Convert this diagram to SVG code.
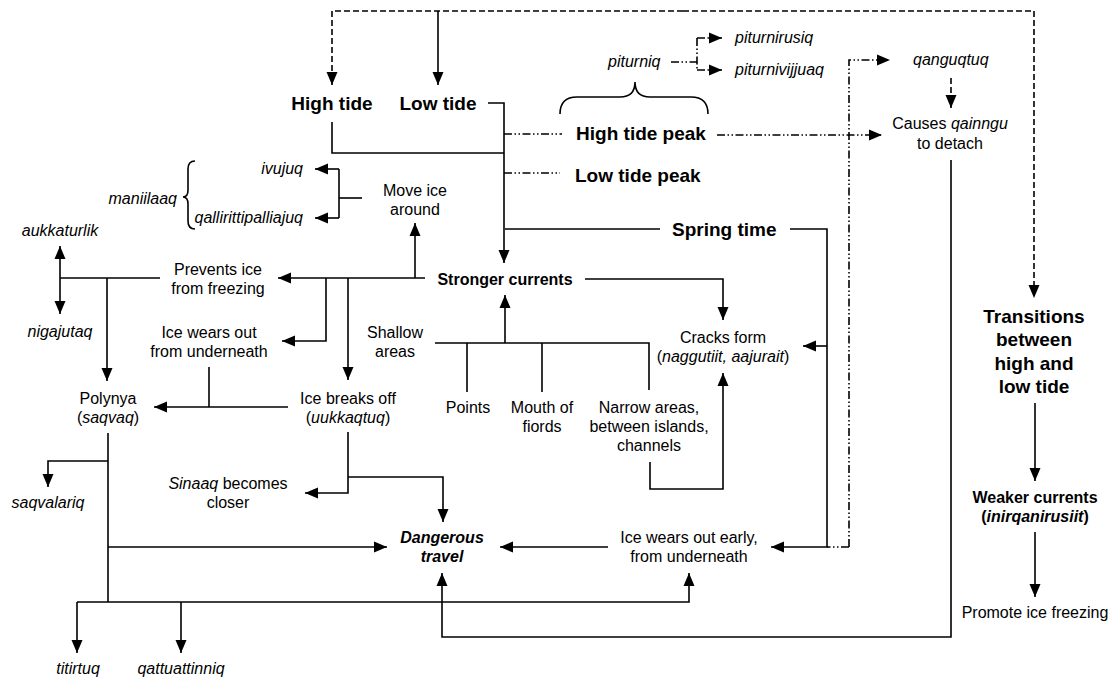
<svg xmlns="http://www.w3.org/2000/svg" width="1113" height="682" viewBox="0 0 1113 682">
<style>
text{font-family:"Liberation Sans",Arial,sans-serif;font-size:16px;fill:#000}
.c{text-anchor:middle}
.e{text-anchor:end}
.b{font-weight:bold}
.big{font-size:19px;font-weight:bold}
.i{font-style:italic}
.ln{fill:none;stroke:#000;stroke-width:1.6}
.da{stroke-dasharray:6,3}
.dd{stroke-dasharray:8,2.5,1.5,2.5,1.5,2.5}
.ar{marker-end:url(#a)}
</style>
<defs>
<marker id="a" markerUnits="userSpaceOnUse" markerWidth="14" markerHeight="12" viewBox="0 0 14 12" refX="13" refY="6" orient="auto"><path d="M0,0.5 L13,6 L0,11.5 z" fill="#000"/></marker>
</defs>
<rect width="1113" height="682" fill="#fff"/>
<g id="connectors">
<path class="ln da ar" d="M683,11 H332 V85"/>
<path class="ln da ar" d="M683,11 H1034 V298"/>
<path class="ln ar" d="M438,11 V85"/>
<path class="ln ar" d="M488,103 H504 V263"/>
<path class="ln" d="M332,122 V153 H504"/>
<path class="ln dd" d="M504,134 H562"/>
<path class="ln dd ar" d="M717,135 H882"/>
<path class="ln dd" d="M504,173 H560"/>
<path class="ln" d="M560,114 Q560,97 577,97 H620 Q635,97 635,82 Q635,97 650,97 H691 Q708,97 708,114"/>
<path class="ln dd" d="M671,62 H697"/>
<path class="ln dd" d="M697,38 V70"/>
<path class="ln dd ar" d="M697,38 H722"/>
<path class="ln dd ar" d="M697,70 H722"/>
<path class="ln dd ar" d="M849,547 V60 H890"/>
<path class="ln dd" d="M849,547 H827"/>
<path class="ln da ar" d="M951,78 V108"/>
<path class="ln ar" d="M951,160 V637 H442 V573"/>
<path class="ln ar" d="M1035,403 V481"/>
<path class="ln ar" d="M1035,532 V597"/>
<path class="ln" d="M505,229 H660"/>
<path class="ln ar" d="M790,229 H827 V547 H771"/>
<path class="ln ar" d="M827,346 H803"/>
<path class="ln ar" d="M585,279 H723 V320"/>
<path class="ln" d="M435,343 H649 V390"/>
<path class="ln" d="M467,343 V392"/>
<path class="ln" d="M542,343 V392"/>
<path class="ln ar" d="M505,343 V295"/>
<path class="ln ar" d="M650,462 V489 H723 V373"/>
<path class="ln ar" d="M425,278 H278"/>
<path class="ln ar" d="M415,278 V223"/>
<path class="ln ar" d="M326,278 V341 H282"/>
<path class="ln ar" d="M348,278 V380"/>
<path class="ln" d="M362,198 H339"/>
<path class="ln" d="M339,169 V218"/>
<path class="ln ar" d="M339,169 H315"/>
<path class="ln ar" d="M339,218 H315"/>
<path class="ln" d="M195,161 Q188,161 188,169 V190 Q188,197 183,197 Q188,197 188,204 V221 Q188,229 195,229"/>
<path class="ln" d="M160,278 H60"/>
<path class="ln ar" d="M60,278 V246"/>
<path class="ln ar" d="M60,278 V314"/>
<path class="ln ar" d="M107,278 V381"/>
<path class="ln" d="M209,367 V407"/>
<path class="ln ar" d="M288,407 H154"/>
<path class="ln ar" d="M348,432 V493 H305"/>
<path class="ln ar" d="M348,477 H443 V522"/>
<path class="ln" d="M108,433 V602"/>
<path class="ln ar" d="M108,461 H48 V487"/>
<path class="ln ar" d="M108,547 H387"/>
<path class="ln ar" d="M77,602 V653"/>
<path class="ln ar" d="M181,602 V653"/>
<path class="ln ar" d="M77,602 H689 V573"/>
<path class="ln ar" d="M608,547 H500"/>
</g>
<g id="high-tide"><text class="big c" x="332" y="110">High tide</text></g>
<g id="low-tide"><text class="big c" x="438" y="110">Low tide</text></g>
<g id="high-tide-peak"><text class="big c" x="641" y="140">High tide peak</text></g>
<g id="low-tide-peak"><text class="big" x="575" y="182">Low tide peak</text></g>
<g id="piturniq"><text class="i" x="608" y="67">piturniq</text></g>
<g id="piturnirusiq"><text class="i" x="735" y="43">piturnirusiq</text></g>
<g id="piturnivijjuaq"><text class="i" x="735" y="75">piturnivijjuaq</text></g>
<g id="qanguqtuq"><text class="i" x="913" y="65">qanguqtuq</text></g>
<g id="causes"><text class="c" x="950" y="129">Causes <tspan class="i">qainngu</tspan></text><text class="c" x="950" y="149">to detach</text></g>
<g id="spring-time"><text class="big" x="672" y="236">Spring time</text></g>
<g id="stronger-currents"><text class="b c" x="505" y="285">Stronger currents</text></g>
<g id="move-ice"><text class="c" x="415" y="196">Move ice</text><text class="c" x="415" y="215">around</text></g>
<g id="ivujuq"><text class="i e" x="303" y="174">ivujuq</text></g>
<g id="qallirittipalliajuq"><text class="i e" x="303" y="223">qallirittipalliajuq</text></g>
<g id="maniilaaq"><text class="i e" x="177" y="204">maniilaaq</text></g>
<g id="aukkaturlik"><text class="i c" x="60" y="236">aukkaturlik</text></g>
<g id="nigajutaq"><text class="i c" x="60" y="337">nigajutaq</text></g>
<g id="prevents"><text class="c" x="218" y="275">Prevents ice</text><text class="c" x="218" y="294">from freezing</text></g>
<g id="ice-wears-out"><text class="c" x="209" y="338">Ice wears out</text><text class="c" x="209" y="357">from underneath</text></g>
<g id="shallow"><text class="c" x="395" y="338">Shallow</text><text class="c" x="395" y="357">areas</text></g>
<g id="polynya"><text class="c" x="108" y="404">Polynya</text><text class="c" x="108" y="423">(<tspan class="i">saqvaq</tspan>)</text></g>
<g id="ice-breaks"><text class="c" x="348" y="404">Ice breaks off</text><text class="c" x="348" y="423">(<tspan class="i">uukkaqtuq</tspan>)</text></g>
<g id="points"><text class="c" x="468" y="413">Points</text></g>
<g id="mouth"><text class="c" x="542" y="413">Mouth of</text><text class="c" x="542" y="432">fiords</text></g>
<g id="narrow"><text class="c" x="649" y="413">Narrow areas,</text><text class="c" x="649" y="432">between islands,</text><text class="c" x="649" y="451">channels</text></g>
<g id="cracks"><text class="c" x="723" y="343">Cracks form</text><text class="c" x="723" y="362">(<tspan class="i">naggutiit, aajurait</tspan>)</text></g>
<g id="sinaaq"><text class="c" x="228" y="489"><tspan class="i">Sinaaq</tspan> becomes</text><text class="c" x="228" y="508">closer</text></g>
<g id="saqvalariq"><text class="i c" x="48" y="508">saqvalariq</text></g>
<g id="dangerous"><text class="b i c" x="442" y="543">Dangerous</text><text class="b i c" x="442" y="562">travel</text></g>
<g id="ice-wears-early"><text class="c" x="689" y="543">Ice wears out early,</text><text class="c" x="689" y="562">from underneath</text></g>
<g id="titirtuq"><text class="i c" x="78" y="674">titirtuq</text></g>
<g id="qattuattinniq"><text class="i c" x="181" y="674">qattuattinniq</text></g>
<g id="transitions"><text class="big c" x="1034" y="323">Transitions</text><text class="big c" x="1034" y="346">between</text><text class="big c" x="1034" y="370">high and</text><text class="big c" x="1034" y="393">low tide</text></g>
<g id="weaker"><text class="b c" x="1035" y="503">Weaker currents</text><text class="b c" x="1035" y="522">(<tspan class="i">inirqanirusiit</tspan>)</text></g>
<g id="promote"><text class="c" x="1035" y="618">Promote ice freezing</text></g>
</svg>
